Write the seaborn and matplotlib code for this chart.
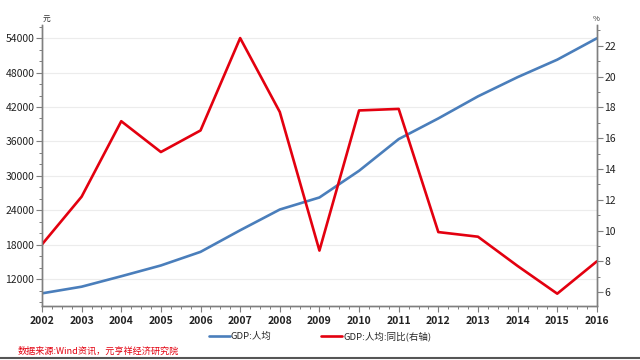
import matplotlib
matplotlib.use("Agg")
import matplotlib.pyplot as plt
from matplotlib.ticker import MultipleLocator
import seaborn as sns
import pandas as pd

years = [2002, 2003, 2004, 2005, 2006, 2007, 2008, 2009, 2010, 2011, 2012, 2013, 2014, 2015, 2016]
gdp_per_capita = [9506, 10666, 12487, 14368, 16738, 20505, 24121, 26222, 30876, 36403, 40007, 43852, 47203, 50251, 53980]
gdp_yoy = [9.1, 12.2, 17.1, 15.1, 16.5, 22.5, 17.7, 8.7, 17.8, 17.9, 9.9, 9.6, 7.7, 5.9, 8.0]
series_names = ["GDP:人均", "GDP:人均:同比(右轴)"]
source_text = "数据来源:Wind资讯，元亨祥经济研究院"

sns.set_theme(style="white")
plt.rcParams['font.family'] = ['Noto Sans CJK SC', 'DejaVu Sans']

df = pd.DataFrame({"year": years, "gdp": gdp_per_capita, "yoy": gdp_yoy})

blue = "#4a7ebb"
red = "#e3000f"
axis_c = "#7f7f7f"

fig = plt.figure(figsize=(6.4, 3.6), dpi=100)
ax = fig.add_axes([0.0656, 0.15, 0.867, 0.7806])
ax2 = ax.twinx()

sns.lineplot(data=df, x="year", y="gdp", ax=ax, color=blue, linewidth=1.9, label=series_names[0], legend=False)
sns.lineplot(data=df, x="year", y="yoy", ax=ax2, color=red, linewidth=1.9, label=series_names[1], legend=False)

ax.set_xlim(2002, 2016)
ax.set_ylim(7300, 56300)
ax2.set_ylim(5.1, 23.35)

ax.set_xticks(years)
ax.set_xticklabels([str(y) for y in years])
ax.xaxis.set_minor_locator(MultipleLocator(0.25))
ax.set_yticks([12000, 18000, 24000, 30000, 36000, 42000, 48000, 54000])
ax.yaxis.set_minor_locator(MultipleLocator(2000))
ax2.set_yticks([6, 8, 10, 12, 14, 16, 18, 20, 22])
ax2.yaxis.set_minor_locator(MultipleLocator(1))

ax.set_xlabel("")
ax.set_ylabel("")
ax2.set_ylabel("")

ax.grid(axis="y", which="major", color="#ececec", linewidth=0.8)
ax.set_axisbelow(True)

for a in (ax, ax2):
    a.spines["top"].set_visible(False)
    for s in ["left", "right", "bottom"]:
        a.spines[s].set_color(axis_c)
        a.spines[s].set_linewidth(1.0)

ax.tick_params(axis="both", which="major", direction="out", length=4, width=0.8, color=axis_c,
               labelsize=7.5, labelcolor="#222222", pad=1.5)
ax.tick_params(axis="both", which="minor", direction="out", length=2.5, width=0.7, color=axis_c)
ax.tick_params(axis="y", which="both", left=True, right=False)
ax2.tick_params(axis="y", which="major", direction="out", length=4, width=0.8, color=axis_c,
                labelsize=7.5, labelcolor="#222222", pad=1.5, right=True)
ax2.tick_params(axis="y", which="minor", direction="out", length=2.5, width=0.7, color=axis_c, right=True)
ax.tick_params(axis="x", which="both", bottom=True)
ax.tick_params(axis="x", labelsize=7.5, pad=3)
for lbl in ax.get_xticklabels():
    lbl.set_fontweight("semibold")

fig.text(0.066, 0.935, "元", fontsize=5.5, color="#333333", ha="left", va="bottom")
fig.text(0.926, 0.935, "%", fontsize=5.5, color="#333333", ha="left", va="bottom")

h1, l1 = ax.get_legend_handles_labels()
h2, l2 = ax2.get_legend_handles_labels()
fig.legend(h1 + h2, l1 + l2, loc="center", bbox_to_anchor=(0.5, 0.066), ncol=2, frameon=False,
           fontsize=6.8, handlelength=2.2, handletextpad=0.15, columnspacing=5.2)

fig.text(0.027, 0.012, source_text, fontsize=6.6, color="#e3000f", style="italic", ha="left", va="bottom")
fig.add_artist(plt.Line2D([0, 1], [0.005, 0.005], color="#555555", linewidth=1.5, transform=fig.transFigure))

fig.savefig("out.png", dpi=100)
